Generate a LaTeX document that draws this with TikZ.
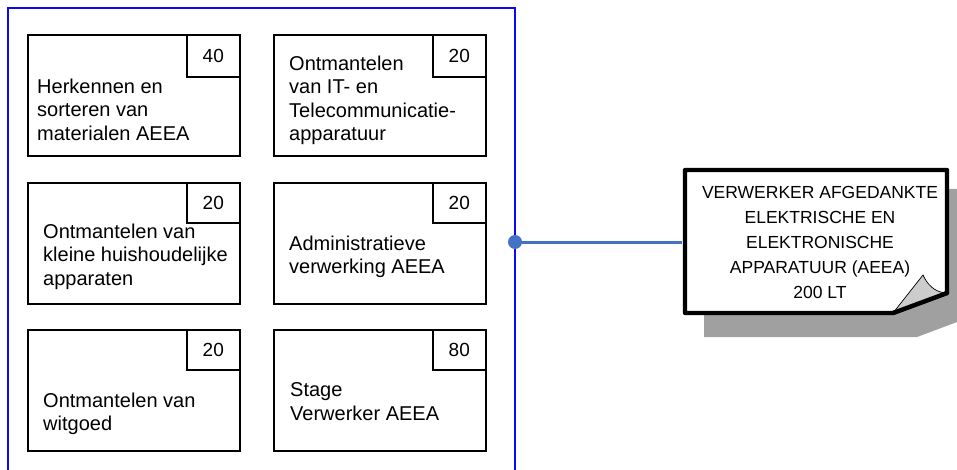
\documentclass[tikz,border=0pt]{standalone}
\usepackage{fontspec}
\setmainfont{Liberation Sans}
\definecolor{frameblue}{RGB}{10,10,245}
\definecolor{dotblue}{RGB}{68,114,196}
\definecolor{shadowgrey}{RGB}{160,160,160}
\definecolor{foldgrey}{RGB}{204,204,204}
\begin{document}
\begin{tikzpicture}[x=1pt,y=-1pt,
  taskbox/.style={draw=black,line width=1.6pt,minimum width=212pt,minimum height=121pt,anchor=north west,inner sep=0pt},
  numbox/.style={draw=black,line width=1.6pt,minimum width=53pt,minimum height=40pt,anchor=north east,inner sep=0pt,font=\fontsize{19}{22}\selectfont},
  tasklbl/.style={anchor=north west,align=left,inner sep=0pt,font=\fontsize{20}{23.5}\selectfont},
  calloutlbl/.style={minimum width=270pt,minimum height=144pt,inner sep=0pt,align=center,font=\fontsize{17.5}{25}\selectfont},
  connector/.style={draw=dotblue,line width=3pt,shorten >=2.5pt}
]
\useasboundingbox (0,0) rectangle (957,470);
\fill[white] (0,0) rectangle (957,470);

% container frame
\draw[frameblue,line width=1.3pt] (8,470) -- (8,8) -- (515,8) -- (515,470);

% task boxes
\node[taskbox] (b1) at (27,34) {};
\node[numbox,minimum height=42.5pt] (n1) at (b1.north east) {40};
\node[tasklbl] (t1) at (37,78.5) {Herkennen en\\sorteren van\\materialen AEEA};

\node[taskbox] (b2) at (273,34) {};
\node[numbox,minimum height=42.5pt] (n2) at (b2.north east) {20};
\node[tasklbl] (t2) at (289,55.5) {Ontmantelen\\van IT- en\\Telecommunicatie-\\apparatuur};

\node[taskbox] (b3) at (27,182) {};
\node[numbox] (n3) at (b3.north east) {20};
\node[tasklbl] (t3) at (43,223.5) {Ontmantelen van\\kleine huishoudelijke\\apparaten};

\node[taskbox] (b4) at (273,182) {};
\node[numbox] (n4) at (b4.north east) {20};
\node[tasklbl] (t4) at (289,235.5) {Administratieve\\verwerking AEEA};

\node[taskbox] (b5) at (27,329) {};
\node[numbox] (n5) at (b5.north east) {20};
\node[tasklbl] (t5) at (43,392.5) {Ontmantelen van\\witgoed};

\node[taskbox] (b6) at (273,329) {};
\node[numbox] (n6) at (b6.north east) {80};
\node[tasklbl] (t6) at (290,382.5) {Stage\\Verwerker AEEA};

% callout shadow
\fill[shadowgrey] (704,189) -- (957,189) -- (957,322) -- (917,337) -- (704,337) -- cycle;
% callout body
\filldraw[fill=white,draw=black,line width=4.3pt,line join=round] (685,170) -- (947,170) -- (947,293) -- (893,313) -- (685,313) -- cycle;
% folded corner
\filldraw[fill=foldgrey,draw=black,line width=0.7pt] (893,313) -- (923,275) .. controls (927,284) and (934,292) .. (946,293) -- cycle;
\draw[black,line width=4.3pt,line cap=round] (893,313) -- (947,293);

\node[calloutlbl] (callout) at (820,242) {VERWERKER AFGEDANKTE\\ELEKTRISCHE EN\\ELEKTRONISCHE\\APPARATUUR (AEEA)\\200 LT};

% connector
\node[circle,fill=dotblue,inner sep=0pt,minimum size=14pt] (dot) at (515,242) {};
\draw[connector] (dot) -- (callout.west);
\end{tikzpicture}
\end{document}
